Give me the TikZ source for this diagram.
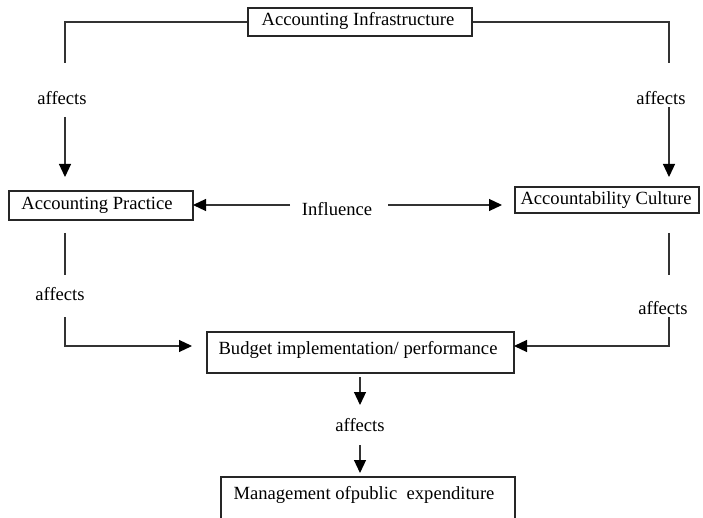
\documentclass[tikz,border=0pt]{standalone}
\usepackage{fontspec}
\setmainfont{Liberation Serif}
\newfontfamily\diagfont{Liberation Serif}
\usetikzlibrary{arrows.meta,calc}
\begin{document}
\begin{tikzpicture}[x=1pt,y=-1pt,
  every node/.style={font=\diagfont\fontsize{18.6}{21}\selectfont, inner sep=0pt},
  box/.style={draw=black!85, line width=1.2pt},
  ln/.style={draw=black!80, line width=1.2pt},
  arr/.style={ln, -{Triangle[length=13pt,width=12pt,fill=black,color=black]}}]
\clip (0,0) rectangle (703,518);
% boxes
\node[box, minimum width=224, minimum height=28] (top) at (360,22) {};
\node (topt) at (358,21) {Accounting Infrastructure};
\node[box, minimum width=184, minimum height=29] (ap) at (101,205.5) {};
\node (apt) at (97,205) {Accounting Practice};
\node[box, minimum width=184, minimum height=26] (ac) at (607,200) {};
\node (act) at (606,200) {Accountability Culture};
\node[box, minimum width=307, minimum height=41] (bud) at (360.5,352.5) {};
\node (budt) at (358,350) {Budget implementation/ performance};
\node[box, minimum width=294, minimum height=60] (mg) at (368,507) {};
\node (mgt) at (364,495) {Management ofpublic\ \ expenditure};
% labels
\node (a1) at (62,98) {affects};
\node (a2) at (661,98) {affects};
\node (a3) at (60,294) {affects};
\node (a4) at (663,308) {affects};
\node (a5) at (360,425) {affects};
\node (inf) at (337,209) {Influence};
% coordinates
\coordinate (c1) at (65,22);
\coordinate (c2) at (65,63);
\coordinate (c3) at (65,117);
\coordinate (c4) at (65,177);
\coordinate (d1) at (669,22);
\coordinate (d2) at (669,63);
\coordinate (d3) at (669,107);
\coordinate (d4) at (669,177);
\coordinate (i0) at (193,205);
\coordinate (i1) at (290,205);
\coordinate (i2) at (388,205);
\coordinate (i3) at (502,205);
\coordinate (e1) at (65,233);
\coordinate (e2) at (65,275);
\coordinate (e3) at (65,317);
\coordinate (e4) at (65,346);
\coordinate (e5) at (192,346);
\coordinate (f1) at (669,233);
\coordinate (f2) at (669,275);
\coordinate (f3) at (669,317);
\coordinate (f4) at (669,346);
\coordinate (f5) at (514,346);
\coordinate (g1) at (360,377);
\coordinate (g2) at (360,405);
\coordinate (g3) at (360,445);
\coordinate (g4) at (360,473);
% connectors
\draw[ln] (top.west) -- (c1) -- (c2);
\draw[arr] (c3) -- (c4);
\draw[ln] (top.east) -- (d1) -- (d2);
\draw[arr] (d3) -- (d4);
\draw[arr] (i1) -- (i0);
\draw[arr] (i2) -- (i3);
\draw[ln] (e1) -- (e2);
\draw[arr] (e3) -- (e4) -- (e5);
\draw[ln] (f1) -- (f2);
\draw[arr] (f3) -- (f4) -- (f5);
\draw[arr] (g1) -- (g2);
\draw[arr] (g3) -- (g4);
\end{tikzpicture}
\end{document}
